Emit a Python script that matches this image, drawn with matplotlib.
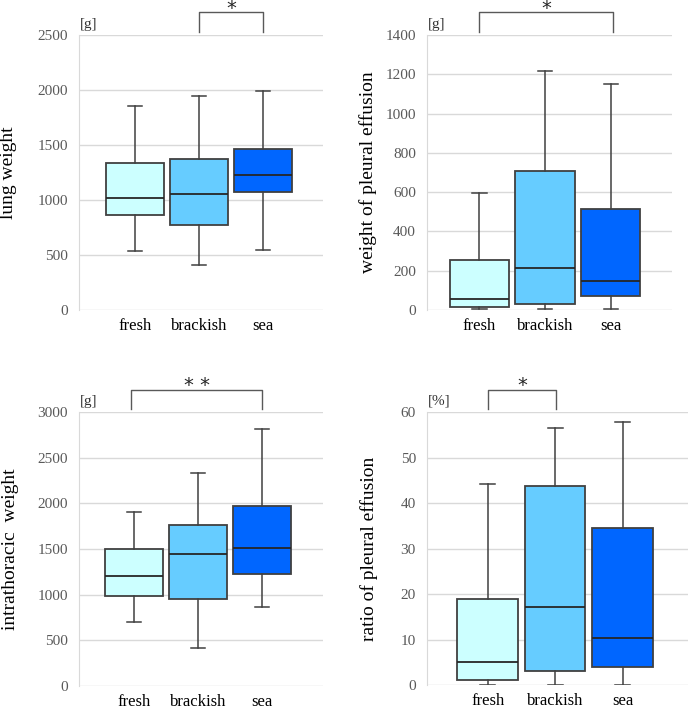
import matplotlib
matplotlib.use('Agg')
import matplotlib.pyplot as plt
import matplotlib.transforms as mtransforms

plt.rcParams['font.family'] = ['Liberation Serif', 'DejaVu Serif']

groups = ['fresh', 'brackish', 'sea']
colors = ['#CCFFFF', '#66CCFF', '#0066FF']

# lung weight [g]: low whisker, Q1, median, Q3, high whisker
lung_low = [539, 406, 545]
lung_q1 = [861, 773, 1076]
lung_med = [1021, 1055, 1227]
lung_q3 = [1333, 1370, 1461]
lung_high = [1855, 1948, 1988]

# weight of pleural effusion [g]
eff_low = [3, 3, 3]
eff_q1 = [14, 31, 73]
eff_med = [54, 212, 149]
eff_q3 = [253, 708, 513]
eff_high = [597, 1217, 1148]

# intrathoracic weight [g]
intra_low = [701, 420, 870]
intra_q1 = [986, 957, 1228]
intra_med = [1202, 1443, 1516]
intra_q3 = [1502, 1765, 1969]
intra_high = [1907, 2327, 2813]

# ratio of pleural effusion [%]
ratio_low = [0, 0, 0]
ratio_q1 = [1.0, 3.1, 4.0]
ratio_med = [5.05, 17.1, 10.3]
ratio_q3 = [18.8, 43.8, 34.4]
ratio_high = [44.1, 56.4, 57.9]

panels = [
    dict(data=(lung_low, lung_q1, lung_med, lung_q3, lung_high),
         ylabel='lung weight', unit='[g]', ymax=2500, step=500,
         rect=[0.1147, 0.5634, 0.3541, 0.3873], xlim=(0.125, 3.94),
         sig=(2, 3, '*'), lab_x=-0.254),
    dict(data=(eff_low, eff_q1, eff_med, eff_q3, eff_high),
         ylabel='weight of pleural effusion', unit='[g]', ymax=1400, step=200,
         rect=[0.6197, 0.5634, 0.3556, 0.3873], xlim=(0.204, 3.93),
         sig=(1, 3.04, '*'), lab_x=-0.204),
    dict(data=(intra_low, intra_q1, intra_med, intra_q3, intra_high),
         ylabel='intrathoracic  weight', unit='[g]', ymax=3000, step=500,
         rect=[0.1147, 0.0338, 0.3541, 0.3859], xlim=(0.14, 3.95),
         sig=(0.95, 3.0, '* *'), lab_x=-0.246),
    dict(data=(ratio_low, ratio_q1, ratio_med, ratio_q3, ratio_high),
         ylabel='ratio of pleural effusion', unit='[%]', ymax=60, step=10,
         rect=[0.6197, 0.0352, 0.3788, 0.3845], xlim=(0.10, 3.97),
         sig=(1.0, 2.02, '*'), lab_x=-0.188),
]

fig = plt.figure(figsize=(6.89, 7.10), dpi=100)

for p in panels:
    ax = fig.add_axes(p['rect'])
    low, q1, med, q3, high = p['data']
    stats = [dict(label=g, whislo=low[i], q1=q1[i], med=med[i], q3=q3[i], whishi=high[i])
             for i, g in enumerate(groups)]
    bp = ax.bxp(stats, positions=[1, 2, 3], widths=0.9, capwidths=0.22,
                showfliers=False, patch_artist=True,
                boxprops=dict(edgecolor='#404040', linewidth=1.3),
                whiskerprops=dict(color='#404040', linewidth=1.1),
                capprops=dict(color='#404040', linewidth=1.1),
                medianprops=dict(color='#262626', linewidth=1.3))
    for patch, c in zip(bp['boxes'], colors):
        patch.set_facecolor(c)

    ax.set_ylim(0, p['ymax'])
    ax.set_yticks(range(0, p['ymax'] + 1, p['step']))
    ax.set_xlim(*p['xlim'])
    ax.set_xticks([1, 2, 3], groups)
    ax.yaxis.grid(True, color='#d9d9d9', linewidth=1)
    ax.set_axisbelow(True)
    for s in ['top', 'right', 'bottom']:
        ax.spines[s].set_visible(False)
    ax.spines['left'].set_color('#d9d9d9')
    ax.tick_params(axis='y', length=0, pad=8, labelsize=11, labelcolor='#595959')
    ax.tick_params(axis='x', length=0, pad=6, labelsize=12, labelcolor='black')

    ax.set_ylabel(p['ylabel'], fontsize=14)
    ax.yaxis.set_label_coords(p['lab_x'], 0.5)

    ax.text(0.003, 1.015, p['unit'], transform=ax.transAxes, ha='left', va='bottom',
            fontsize=11, color='#333333')

    # significance bracket
    x0, x1, star = p['sig']
    tr = mtransforms.blended_transform_factory(ax.transData, ax.transAxes)
    ax.plot([x0, x0, x1, x1], [1.012, 1.082, 1.082, 1.012], transform=tr,
            color='#595959', linewidth=1, clip_on=False)
    ax.text((x0 + x1) / 2, 1.076, star, transform=tr, ha='center', va='baseline',
            fontsize=14, family='DejaVu Sans', color='#262626')

fig.savefig('out.png', dpi=100)
